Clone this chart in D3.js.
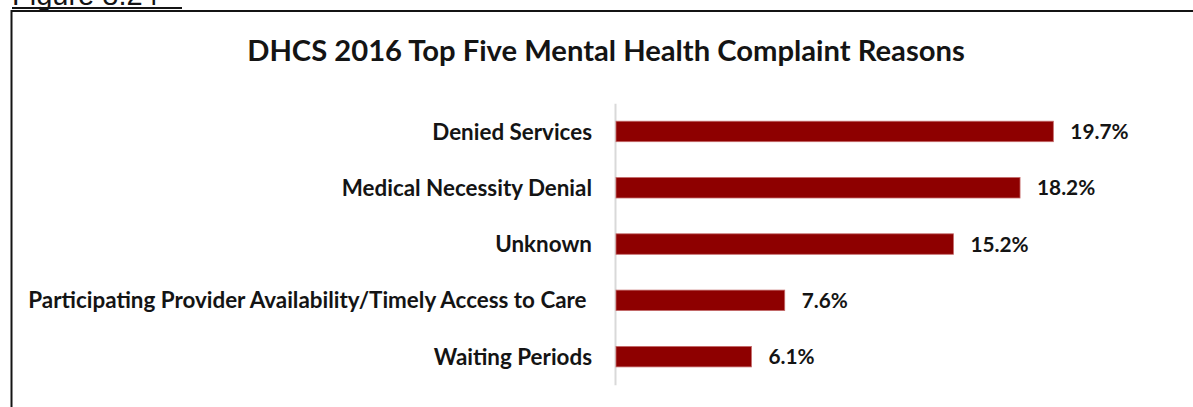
<!DOCTYPE html>
<html>
<head>
<meta charset="utf-8">
<script src="https://cdn.jsdelivr.net/npm/d3@7"></script>
<style>
  html, body { margin: 0; padding: 0; background: #fff; }
  svg { display: block; }
</style>
</head>
<body>
<svg id="chart" width="1193" height="407"></svg>
<script>
// Complaint reasons, top to bottom, with their share of all complaints
const categories = [
  "Denied Services",
  "Medical Necessity Denial",
  "Unknown",
  "Participating Provider Availability/Timely Access to Care ",
  "Waiting Periods"
];
const shares = [0.197, 0.182, 0.152, 0.076, 0.061];
const valueLabels = ["19.7%", "18.2%", "15.2%", "7.6%", "6.1%"];

const titleText = "DHCS 2016 Top Five Mental Health Complaint Reasons";
const figureText = "Figure 8.24";

const W = 1193, H = 407;
const font = "Lato, 'Open Sans', sans-serif";
const ink = "#141414";

const svg = d3.select("#chart");

// Figure caption above the frame (its top runs off the page edge)
svg.append("text")
  .attr("x", 12).attr("y", 5)
  .attr("font-family", "'Liberation Sans', Arial, sans-serif")
  .attr("font-size", 29)
  .attr("fill", ink)
  .text(figureText);
svg.append("line")
  .attr("x1", 12).attr("x2", 182).attr("y1", 8).attr("y2", 8)
  .attr("stroke", ink).attr("stroke-width", 2);

// Frame around the chart
svg.append("path")
  .attr("d", `M11.5,${H + 5} V11 H${W + 5}`)
  .attr("fill", "none")
  .attr("stroke", ink)
  .attr("stroke-width", 2);

// Title
svg.append("text")
  .attr("x", 606).attr("y", 61)
  .attr("text-anchor", "middle")
  .attr("font-family", font)
  .attr("font-weight", 700)
  .attr("font-size", 29.2)
  .attr("fill", ink)
  .text(titleText);

// Scales
const x = d3.scaleLinear().domain([0, 0.25]).range([616, 1171]);
const y = d3.scaleBand()
  .domain(categories)
  .range([103.3, 384.8])
  .paddingInner(0.636)
  .paddingOuter(0.318);

// Category axis: grey vertical line with labels, no ticks
const yAxis = d3.axisLeft(y).tickSize(0).tickPadding(0);
const gy = svg.append("g")
  .attr("transform", `translate(615,0)`)
  .call(yAxis);
gy.select(".domain")
  .attr("stroke", "#d9d9d9")
  .attr("stroke-width", 2);
gy.selectAll(".tick text")
  .attr("x", -23)
  .attr("dy", "0.36em")
  .attr("font-family", font)
  .attr("font-weight", 700)
  .attr("font-size", 22.4)
  .attr("fill", ink)
  .style("white-space", "pre");

// Bars
svg.append("g")
  .selectAll("rect")
  .data(shares)
  .join("rect")
  .attr("x", x(0))
  .attr("y", (d, i) => y(categories[i]))
  .attr("width", d => x(d) - x(0))
  .attr("height", y.bandwidth())
  .attr("fill", "#8e0000")
  .attr("stroke", "#c46a6a")
  .attr("stroke-width", 0.8);

// Value labels at the bar ends
svg.append("g")
  .selectAll("text")
  .data(shares)
  .join("text")
  .attr("x", d => x(d) + 17)
  .attr("y", (d, i) => y(categories[i]) + y.bandwidth() / 2)
  .attr("dy", "0.36em")
  .attr("font-family", font)
  .attr("font-weight", 700)
  .attr("font-size", 20.8)
  .attr("fill", ink)
  .text((d, i) => valueLabels[i]);
</script>
</body>
</html>
